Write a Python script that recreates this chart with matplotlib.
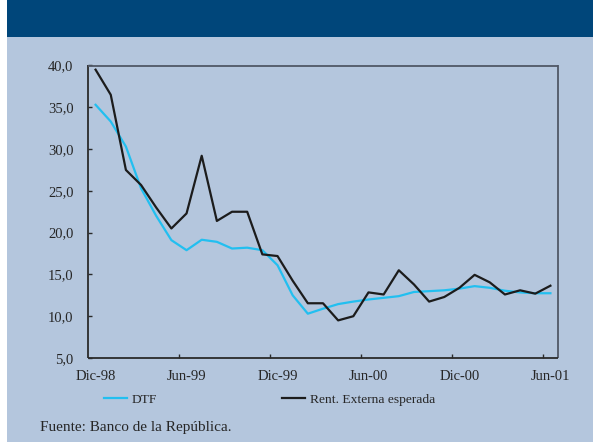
import matplotlib.pyplot as plt
from matplotlib.patches import Rectangle
import numpy as np

# Tasas mensuales, Dic-98 a Jun-01
dtf = [35.3, 33.3, 30.3, 25.3, 22.0, 19.1, 17.9, 19.15, 18.9, 18.1, 18.2,
       17.9, 16.1, 12.5, 10.3, 10.9, 11.45, 11.75, 12.0, 12.2, 12.4, 12.9,
       13.0, 13.1, 13.3, 13.6, 13.4, 13.05, 12.85, 12.75, 12.75]
rent_ext = [39.5, 36.5, 27.5, 25.7, 23.0, 20.5, 22.3, 29.2, 21.4, 22.5, 22.5,
            17.4, 17.2, 14.25, 11.55, 11.55, 9.5, 10.0, 12.85, 12.6, 15.5,
            13.8, 11.75, 12.3, 13.4, 14.95, 14.05, 12.6, 13.1, 12.7, 13.65]
tick_labels = ["Dic-98", "Jun-99", "Dic-99", "Jun-00", "Dic-00", "Jun-01"]
y_ticks = [5, 10, 15, 20, 25, 30, 35, 40]

W, H = 593, 442
bg = "#b4c6dd"
band = "#00467a"

plt.rcParams['font.family'] = ['Liberation Serif', 'DejaVu Serif']

fig = plt.figure(figsize=(W / 100, H / 100), dpi=100)
fig.patch.set_facecolor("white")
fig.patches.append(Rectangle((6.5 / W, 0), 1, 1, transform=fig.transFigure,
                             facecolor=bg, edgecolor="none", zorder=-2))
fig.patches.append(Rectangle((6.5 / W, 1 - 37 / H), 1, 37 / H,
                             transform=fig.transFigure, facecolor=band,
                             edgecolor="none", zorder=-1))

left, right, top, bottom = 88, 558, 65.5, 358
ax = fig.add_axes([left / W, 1 - bottom / H, (right - left) / W, (bottom - top) / H])
ax.set_facecolor(bg)

x = np.arange(len(dtf))
ax.plot(x, dtf, color="#22bff0", lw=1.6, label="DTF")
ax.plot(x, rent_ext, color="#1c1c1c", lw=1.6, label="Rent. Externa esperada")

ax.set_xlim(-0.5, len(dtf) - 0.5)
ax.set_ylim(5, 40)

ax.set_yticks(y_ticks)
ax.set_yticklabels([f"{v:.1f}".replace(".", ",") for v in y_ticks])
ax.set_xticks(np.arange(0, len(dtf), 6))
ax.set_xticklabels(tick_labels)
ax.set_xticks(np.arange(5.5, len(dtf), 6), minor=True)

ax.tick_params(axis="x", which="major", length=0, pad=9.0, labelsize=10.5,
               labelcolor="#262626")
ax.tick_params(axis="x", which="minor", direction="in", length=3, width=1,
               color="#2a2a2a")
ax.tick_params(axis="y", direction="in", length=3, width=1, pad=10.5,
               labelsize=10.5, color="#2a2a2a", labelcolor="#262626")

for side in ["left", "bottom"]:
    ax.spines[side].set_color("#2a2a2a")
    ax.spines[side].set_linewidth(1.3)
for side in ["top", "right"]:
    ax.spines[side].set_color("#505866")
    ax.spines[side].set_linewidth(1.3)
for sp in ax.spines.values():
    sp.set_capstyle("butt")

fig.legend(loc="center left", bbox_to_anchor=(104 / W, 1 - 399.5 / H),
           ncol=2, frameon=False, fontsize=9.7, handlelength=1.7,
           handletextpad=0.35, columnspacing=9.3, borderpad=0,
           borderaxespad=0, labelcolor="#262626")

fig.text(40 / W, 1 - 428 / H, "Fuente: Banco de la República.",
         fontsize=11, color="#262626", va="center", ha="left")

fig.savefig("out.png", dpi=100, facecolor=fig.get_facecolor())
